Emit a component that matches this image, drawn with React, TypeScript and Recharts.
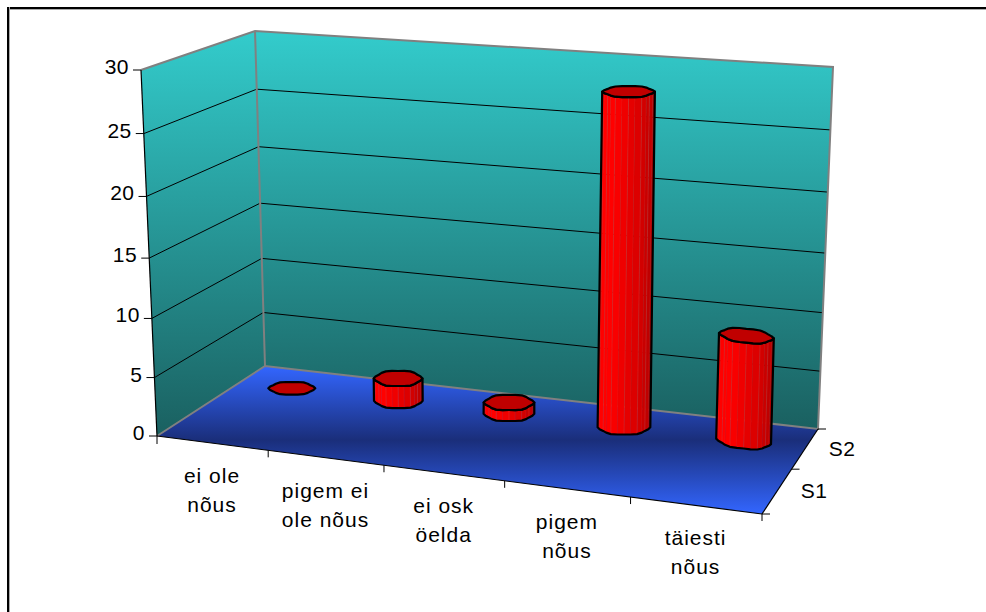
import { BarChart, Bar, XAxis, YAxis } from 'recharts';

const categories = [['ei ole', 'nõus'], ['pigem ei', 'ole nõus'], ['ei osk', 'öelda'], ['pigem', 'nõus'], ['täiesti', 'nõus']];
const s2Values = [0, 2, 1, 28, 9];
const valueTicks = [0, 5, 10, 15, 20, 25, 30];
const depthLabels = ['S1', 'S2'];

const WIDTH = 986;
const HEIGHT = 612;
const LEFT = 157;
const RIGHT = 762;
const TOP = 70;
const BOTTOM = 436;
const MAX = 30;
const FONT = '"Liberation Sans", Arial, sans-serif';

type Pt = [number, number];

// homography from the unit square (u along categories, d into the depth)
function quadMap(p0: Pt, p1: Pt, p2: Pt, p3: Pt) {
  const sx = p0[0] - p1[0] + p2[0] - p3[0];
  const sy = p0[1] - p1[1] + p2[1] - p3[1];
  const dx1 = p1[0] - p2[0];
  const dx2 = p3[0] - p2[0];
  const dy1 = p1[1] - p2[1];
  const dy2 = p3[1] - p2[1];
  const den = dx1 * dy2 - dx2 * dy1;
  const g = (sx * dy2 - dx2 * sy) / den;
  const h = (dx1 * sy - sx * dy1) / den;
  const a = p1[0] - p0[0] + g * p1[0];
  const b = p3[0] - p0[0] + h * p3[0];
  const d = p1[1] - p0[1] + g * p1[1];
  const e = p3[1] - p0[1] + h * p3[1];
  return (u: number, w: number): Pt => {
    const q = g * u + h * w + 1;
    return [(a * u + b * w + p0[0]) / q, (d * u + e * w + p0[1]) / q];
  };
}

const floorMap = quadMap([157, 436], [762, 514], [818, 429], [265, 366]);

// how far a full-height column reaches at the four floor corners
const riseFL: Pt = [-16, -366];
const riseFR: Pt = [3, -388];
const riseBR: Pt = [15, -362];
const riseBL: Pt = [-10, -335];

function project(u: number, d: number, frac: number): Pt {
  const f = floorMap(u, d);
  const rx = (1 - d) * ((1 - u) * riseFL[0] + u * riseFR[0]) + d * ((1 - u) * riseBL[0] + u * riseBR[0]);
  const ry = (1 - d) * ((1 - u) * riseFL[1] + u * riseFR[1]) + d * ((1 - u) * riseBL[1] + u * riseBR[1]);
  // the height scale is not quite even in the original
  const k = frac - 0.014 * Math.sin(Math.PI * frac);
  return [f[0] + rx * k, f[1] + ry * k];
}

const pts = (list: Pt[]) => list.map((p) => `${p[0].toFixed(1)},${p[1].toFixed(1)}`).join(' ');

function Cylinder(props: any) {
  const { x, y, width } = props;
  const u = (x + width / 2 - LEFT) / (RIGHT - LEFT);
  const frac = (BOTTOM - y) / (BOTTOM - TOP);
  const d = 0.75;
  const n = 24;
  const a = (project(u + 0.043, d, 0)[0] - project(u - 0.043, d, 0)[0]) / 2;
  const tilt = Math.max(0, (u - 0.7) * 0.5);
  const ring = (h: number, b: number) => {
    const c = project(u, d, h);
    const out: Pt[] = [];
    for (let i = 0; i < n; i++) {
      const t = (i / n) * Math.PI * 2;
      const r = 1 + 0.045 * Math.cos(6 * t);
      out.push([c[0] + a * r * Math.cos(t), c[1] + a * r * Math.cos(t) * tilt + b * r * Math.sin(t)]);
    }
    return out;
  };
  const base = ring(0, frac > 0 ? 7.5 : 6.5);
  const top = ring(frac, frac > 0 ? 8 - 2.5 * frac : 6.5);
  // lower half of the ring, left to right
  const front: number[] = [];
  for (let i = n / 2; i >= 0; i--) front.push(i);
  const outline: Pt[] = [...front.map((i) => base[i]), ...front.slice().reverse().map((i) => top[i])];
  return (
    <g>
      {frac > 0 &&
        front.slice(0, -1).map((i, k) => {
          const j = front[k + 1];
          const t = k / (front.length - 2);
          const shade = t < 0.3 ? 255 : Math.round(255 - (t - 0.3) * 105);
          return (
            <polygon
              key={i}
              points={pts([base[i], base[j], top[j], top[i]])}
              fill={`rgb(${shade},0,0)`}
              stroke={k % 2 ? `rgb(${shade},0,0)` : '#d84040'}
              strokeWidth={0.4}
            />
          );
        })}
      {frac > 0 && <polygon points={pts(outline)} fill="none" stroke="#000" strokeWidth={2.2} strokeLinejoin="round" />}
      <polygon points={pts(top)} fill="#c00000" stroke="#000" strokeWidth={2.2} strokeLinejoin="round" />
    </g>
  );
}

function line(a: Pt, b: Pt, stroke: string, w: number, key?: string) {
  return <line key={key} x1={a[0]} y1={a[1]} x2={b[0]} y2={b[1]} stroke={stroke} strokeWidth={w} />;
}

function Scene() {
  const grey = '#808080';
  const inner = valueTicks.filter((v) => v > 0 && v < MAX);
  const f00 = project(0, 0, 0);
  const f10 = project(1, 0, 0);
  const f11 = project(1, 1, 0);
  const f01 = project(0, 1, 0);
  const c00 = project(0, 0, 1);
  const c01 = project(0, 1, 1);
  const c11 = project(1, 1, 1);
  return (
    <g>
      <defs>
        <linearGradient id="wall" x1="0" y1="0" x2="0" y2="1">
          <stop offset="0" stopColor="#33cccc" />
          <stop offset="1" stopColor="#1a6060" />
        </linearGradient>
        <linearGradient id="floor" x1="0" y1="0" x2="0" y2="1">
          <stop offset="0" stopColor="#3366ff" />
          <stop offset="0.5" stopColor="#1a2e7a" />
          <stop offset="1" stopColor="#3366ff" />
        </linearGradient>
      </defs>
      <polygon points={pts([f00, f01, c01, c00])} fill="url(#wall)" />
      <polygon points={pts([f01, f11, c11, c01])} fill="url(#wall)" />
      <polygon points={pts([f00, f10, f11, f01])} fill="url(#floor)" />
      {inner.map((v) => (
        <polyline
          key={v}
          points={pts([project(0, 0, v / MAX), project(0, 1, v / MAX), project(1, 1, v / MAX)])}
          fill="none"
          stroke="#000"
          strokeWidth={1}
        />
      ))}
      <polyline points={pts([c00, c01, c11, f11, f01, f00])} fill="none" stroke={grey} strokeWidth={2} />
      {line(f01, c01, grey, 2)}
      {line(c00, f00, '#000', 1.2)}
      {line(f00, f10, '#000', 1.2)}
      {line(f10, f11, '#000', 1.2)}
      {line(f00, [f00[0], f00[1] + 8], '#000', 1)}
      {[0.2, 0.4, 0.6, 0.8, 1].map((u) => {
        const p = project(u, 0, 0);
        return line(p, [p[0], p[1] + 7], '#000', 1, `u${u}`);
      })}
      {[0, 0.5, 1].map((d) => {
        const p = project(1, d, 0);
        return line(p, [p[0] + 8, p[1]], '#000', 1, `d${d}`);
      })}
      {depthLabels.map((s, i) => {
        const p = project(1, 0.25 + i * 0.5, 0);
        return (
          <text key={s} x={p[0] + 37} y={p[1] + 7} textAnchor="middle" fontFamily={FONT} fontSize={21} letterSpacing={0.5} fill="#000">
            {s}
          </text>
        );
      })}
    </g>
  );
}

function ValueTick({ payload }: any) {
  const p = project(0, 0, payload.value / MAX);
  return (
    <g>
      {line([p[0] - 8, p[1]], p, '#000', 1)}
      <text x={p[0] - 12} y={p[1] + 4} textAnchor="end" fontFamily={FONT} fontSize={21} letterSpacing={0.5} fill="#000">
        {payload.value}
      </text>
    </g>
  );
}

function CategoryTick({ x, index }: any) {
  const p = project((x - LEFT) / (RIGHT - LEFT), 0, 0);
  return (
    <text textAnchor="middle" fontFamily={FONT} fontSize={21} fill="#000" letterSpacing={1}>
      {categories[index].map((t, i) => (
        <tspan key={t} x={p[0]} y={p[1] + 40 + i * 29}>
          {t}
        </tspan>
      ))}
    </text>
  );
}

export default function App() {
  const data = categories.map((c, i) => ({ name: c.join(' '), s2: s2Values[i] }));
  return (
    <div style={{ position: 'absolute', left: 0, top: 0, width: WIDTH, height: HEIGHT, background: '#fff', overflow: 'hidden' }}>
      <div style={{ position: 'absolute', left: 7, top: 7, width: WIDTH, height: 2, background: '#000', boxShadow: '0 1px 0 #aaa' }} />
      <div style={{ position: 'absolute', left: 7, top: 7, width: 2, height: HEIGHT, background: '#000', boxShadow: '1px 0 0 #aaa' }} />
      <div style={{ position: 'absolute', left: 0, top: 0 }}>
        <BarChart
          width={WIDTH}
          height={HEIGHT}
          data={data}
          margin={{ left: LEFT - 60, right: WIDTH - RIGHT, top: TOP, bottom: HEIGHT - BOTTOM - 60 }}
        >
          <Scene />
          <XAxis dataKey="name" height={60} axisLine={false} tickLine={false} tick={<CategoryTick />} interval={0} />
          <YAxis width={60} domain={[0, MAX]} ticks={valueTicks} axisLine={false} tickLine={false} tick={<ValueTick />} />
          <Bar dataKey="s2" isAnimationActive={false} shape={<Cylinder />} />
        </BarChart>
      </div>
    </div>
  );
}
